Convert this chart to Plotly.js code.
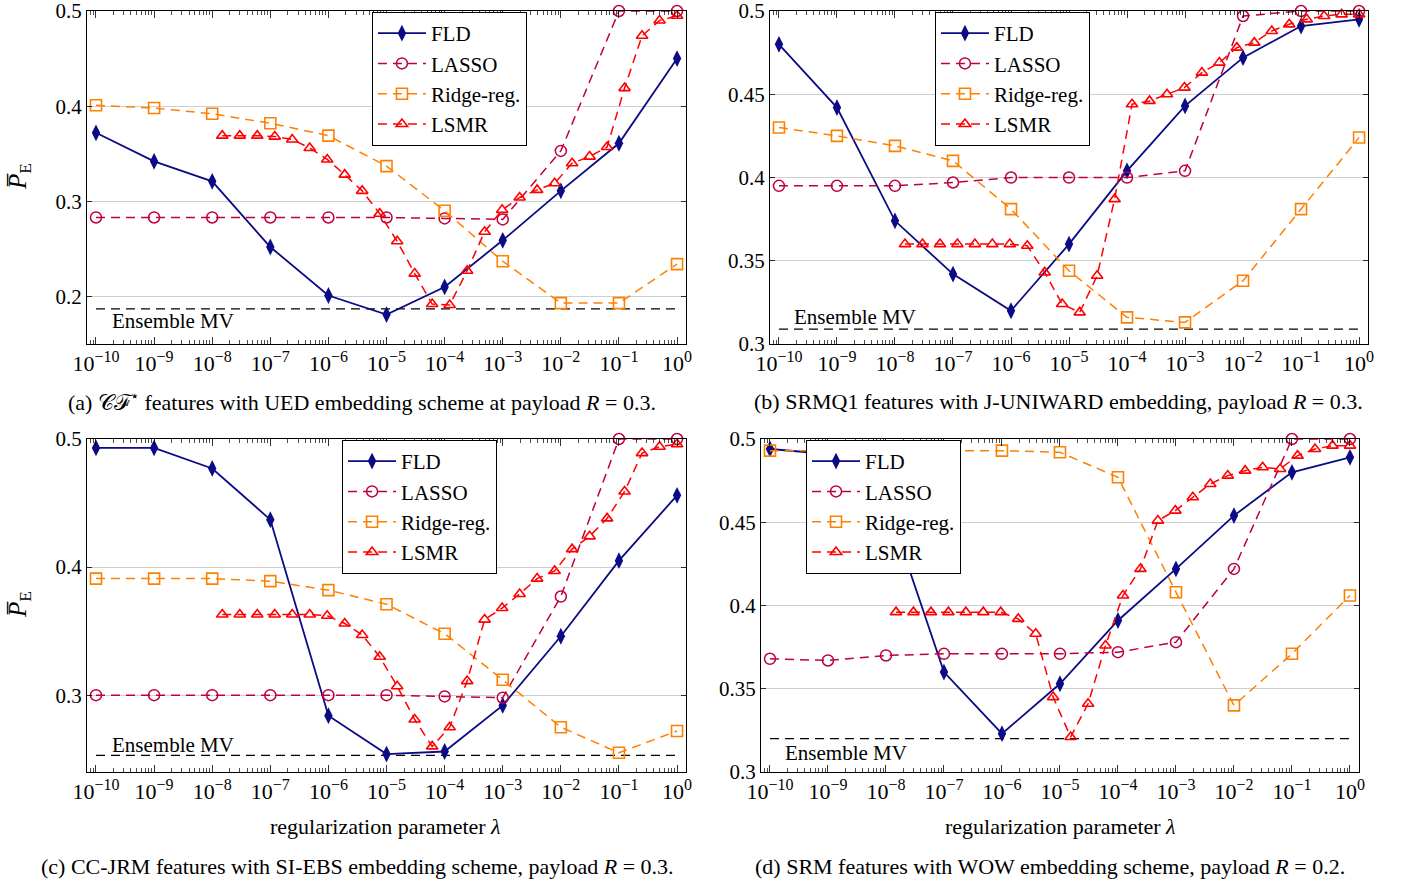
<!DOCTYPE html>
<html>
<head>
<meta charset="utf-8">
<script src="https://cdn.plot.ly/plotly-3.0.1.min.js"></script>
<style>html,body{margin:0;padding:0;background:#fff;}#chart{width:1403px;height:881px;}</style>
</head>
<body>
<div id="chart"></div>
<script>
// regularization parameter values
const LAMBDA = [1e-10, 1e-9, 1e-8, 1e-7, 1e-6, 1e-5, 1e-4, 1e-3, 1e-2, 1e-1, 1];
const LAMBDA_LSMR = [2**-26, 2**-25, 2**-24, 2**-23, 2**-22, 2**-21, 2**-20, 2**-19, 2**-18,
  2**-17, 2**-16, 2**-15, 2**-14, 2**-13, 2**-12, 2**-11, 2**-10, 2**-9, 2**-8, 2**-7,
  2**-6, 2**-5, 2**-4, 2**-3, 2**-2, 2**-1, 2**0];
const SUP = s => '10<sup><span style="font-size:16px">' + s + '</span></sup>';
const X_TICK_LABELS = [SUP('−10'), SUP('−9'), SUP('−8'), SUP('−7'), SUP('−6'),
  SUP('−5'), SUP('−4'), SUP('−3'), SUP('−2'), SUP('−1'), SUP('0')];
const SERIES_NAMES = ['FLD', 'LASSO', 'Ridge-reg.', 'LSMR'];

// (a) CF* / UED
const FLD_A   = [0.372,0.342,0.321,0.252,0.201,0.181,0.210,0.259,0.311,0.361,0.450];
const LASSO_A = [0.283,0.283,0.283,0.283,0.283,0.283,0.282,0.281,0.353,0.500,0.500];
const RIDGE_A = [0.401,0.398,0.392,0.382,0.369,0.337,0.290,0.237,0.193,0.193,0.234];
const LSMR_A  = [0.369,0.369,0.369,0.368,0.365,0.356,0.344,0.328,0.311,0.287,0.258,0.224,0.192,0.191,
  0.227,0.268,0.291,0.304,0.312,0.319,0.340,0.347,0.357,0.419,0.474,0.490,0.495];
const MV_A = 0.187;

// (b) SRMQ1 / J-UNIWARD
const FLD_B   = [0.480,0.442,0.374,0.342,0.320,0.360,0.404,0.443,0.472,0.491,0.495];
const LASSO_B = [0.395,0.395,0.395,0.397,0.400,0.400,0.400,0.404,0.497,0.500,0.500];
const RIDGE_B = [0.430,0.425,0.419,0.410,0.381,0.344,0.316,0.313,0.338,0.381,0.424];
const LSMR_B  = [0.360,0.360,0.360,0.360,0.360,0.360,0.360,0.359,0.343,0.324,0.319,0.341,0.387,0.444,
  0.446,0.450,0.454,0.463,0.469,0.478,0.481,0.488,0.492,0.495,0.497,0.498,0.498];
const MV_B = 0.309;

// (c) CC-JRM / SI-EBS
const FLD_C   = [0.493,0.493,0.477,0.437,0.284,0.254,0.256,0.292,0.346,0.405,0.456];
const LASSO_C = [0.300,0.300,0.300,0.300,0.300,0.300,0.299,0.298,0.377,0.500,0.500];
const RIDGE_C = [0.391,0.391,0.391,0.389,0.382,0.371,0.348,0.312,0.275,0.255,0.272];
const LSMR_C  = [0.363,0.363,0.363,0.363,0.363,0.363,0.362,0.356,0.347,0.330,0.307,0.281,0.260,0.275,
  0.311,0.359,0.368,0.379,0.391,0.397,0.414,0.424,0.438,0.459,0.489,0.494,0.496];
const MV_C = 0.253;

// (d) SRM / WOW
const FLD_D   = [0.494,0.491,0.463,0.360,0.323,0.353,0.391,0.422,0.454,0.480,0.489];
const LASSO_D = [0.368,0.367,0.370,0.371,0.371,0.371,0.372,0.378,0.422,0.500,0.500];
const RIDGE_D = [0.493,0.493,0.493,0.493,0.493,0.492,0.477,0.408,0.340,0.371,0.406];
const LSMR_D  = [0.396,0.396,0.396,0.396,0.396,0.396,0.396,0.392,0.383,0.345,0.321,0.341,0.376,0.406,
  0.422,0.451,0.457,0.465,0.473,0.478,0.481,0.483,0.482,0.490,0.494,0.496,0.496];
const MV_D = 0.320;

const FONT = 'Liberation Serif, Times New Roman, serif';
const C_FLD = '#0b0b85', C_LASSO = 'rgb(191,0,64)', C_RIDGE = 'rgb(255,128,0)', C_LSMR = 'rgb(255,0,0)';
const DASH = '9px,6px';

// minor tick positions (2..9 times each decade) for the log axes
const MINOR_TICKS = [];
for (let d = -11; d <= 0; d++) for (let k = 2; k <= 9; k++) MINOR_TICKS.push(k * Math.pow(10, d));

function panelTraces(n, fld, lasso, ridge, lsmr, mv) {
  const xa = n === 1 ? 'x' : 'x' + n, ya = n === 1 ? 'y' : 'y' + n;
  const lg = n === 1 ? 'legend' : 'legend' + n;
  const common = {xaxis: xa, yaxis: ya, legend: lg, type: 'scatter', mode: 'lines+markers', cliponaxis: false};
  return [
    {xaxis: xa, yaxis: ya, type: 'scatter', mode: 'lines', x: [LAMBDA[0], LAMBDA[LAMBDA.length - 1]], y: [mv, mv],
     line: {color: '#000', width: 1.2, dash: DASH}, showlegend: false, hoverinfo: 'skip'},
    Object.assign({}, common, {name: SERIES_NAMES[0], legendgroup: 'g1', x: LAMBDA, y: fld,
      line: {color: C_FLD, width: 1.8}, marker: {symbol: 'diamond-tall', size: 12, color: C_FLD}}),
    Object.assign({}, common, {name: SERIES_NAMES[1], legendgroup: 'g2', x: LAMBDA, y: lasso,
      line: {color: C_LASSO, width: 1.5, dash: DASH}, marker: {symbol: 'circle-open', size: 11, color: C_LASSO, line: {width: 1.5}}}),
    Object.assign({}, common, {name: SERIES_NAMES[2], legendgroup: 'g3', x: LAMBDA, y: ridge,
      line: {color: C_RIDGE, width: 1.5, dash: DASH}, marker: {symbol: 'square-open', size: 11, color: C_RIDGE, line: {width: 1.6}}}),
    Object.assign({}, common, {name: SERIES_NAMES[3], legendgroup: 'g4', x: LAMBDA_LSMR, y: lsmr,
      line: {color: C_LSMR, width: 1.5, dash: DASH}, marker: {symbol: 'triangle-up-open', size: 10, color: C_LSMR, line: {width: 1.6}}})
  ];
}

const data = [].concat(
  panelTraces(1, FLD_A, LASSO_A, RIDGE_A, LSMR_A, MV_A),
  panelTraces(2, FLD_B, LASSO_B, RIDGE_B, LSMR_B, MV_B),
  panelTraces(3, FLD_C, LASSO_C, RIDGE_C, LSMR_C, MV_C),
  panelTraces(4, FLD_D, LASSO_D, RIDGE_D, LSMR_D, MV_D)
);

function xAxis(domain, anchor) {
  return {domain: domain, anchor: anchor, type: 'log', range: [-10.155, 0.155],
    tickmode: 'array', tickvals: LAMBDA, ticktext: X_TICK_LABELS, ticks: 'inside', ticklen: 7, tickwidth: 0.8, tickcolor: '#000',
    minor: {tickmode: 'array', tickvals: MINOR_TICKS, ticks: 'inside', ticklen: 4, tickwidth: 0.7, tickcolor: '#000', showgrid: false},
    showline: true, linecolor: '#000', linewidth: 1, mirror: 'allticks', showgrid: false, zeroline: false,
    ticklabeloverflow: 'allow',
    tickfont: {family: FONT, size: 22, color: '#000'}, fixedrange: true};
}
function yAxis(domain, anchor, range, tickvals, ticktext) {
  return {domain: domain, anchor: anchor, range: range, tickmode: 'array', tickvals: tickvals, ticktext: ticktext,
    ticks: 'inside', ticklen: 5, tickwidth: 0.8, tickcolor: '#000',
    showline: true, linecolor: '#000', linewidth: 1, mirror: 'allticks',
    showgrid: true, gridcolor: '#cfcfcf', gridwidth: 1, zeroline: false,
    ticklabeloverflow: 'allow',
    tickfont: {family: FONT, size: 21, color: '#000'}, fixedrange: true};
}
function legendAt(x, y) {
  return {x: x, y: y, xanchor: 'left', yanchor: 'top', xref: 'paper', yref: 'paper',
    bgcolor: '#fff', bordercolor: '#000', borderwidth: 1, font: {family: FONT, size: 21, color: '#000'},
    tracegroupgap: 0, traceorder: 'grouped', itemwidth: 48};
}

const TOP = [0.6095, 0.9875], BOT = [0.1237, 0.5017];
const annFont = {family: FONT, size: 21, color: '#000'};
const capFont = {family: FONT, size: 22, color: '#000'};
const P_TITLE = '<i>P̅</i><sub>E</sub>';

const layout = {
  width: 1403, height: 881, margin: {l: 0, r: 0, t: 0, b: 0},
  paper_bgcolor: '#fff', plot_bgcolor: '#fff', font: {family: FONT, color: '#000'},
  xaxis: xAxis([0.0620, 0.4890], 'y'),
  yaxis: yAxis(TOP, 'x', [0.15, 0.5], [0.2, 0.3, 0.4, 0.5], ['0.2', '0.3', '0.4', '0.5']),
  xaxis2: xAxis([0.5488, 0.9751], 'y2'),
  yaxis2: yAxis(TOP, 'x2', [0.3, 0.5], [0.3, 0.35, 0.4, 0.45, 0.5], ['0.3', '0.35', '0.4', '0.45', '0.5']),
  xaxis3: xAxis([0.0620, 0.4890], 'y3'),
  yaxis3: yAxis(BOT, 'x3', [0.24, 0.5], [0.3, 0.4, 0.5], ['0.3', '0.4', '0.5']),
  xaxis4: xAxis([0.5424, 0.9686], 'y4'),
  yaxis4: yAxis(BOT, 'x4', [0.3, 0.5], [0.3, 0.35, 0.4, 0.45, 0.5], ['0.3', '0.35', '0.4', '0.45', '0.5']),
  legend: legendAt(0.2651, 0.9864),
  legend2: legendAt(0.6664, 0.9864),
  legend3: legendAt(0.2438, 0.5006),
  legend4: legendAt(0.5745, 0.5006),
  showlegend: true,
  annotations: [
    // Ensemble MV labels
    {xref: 'x', yref: 'y', x: -9.76, y: 0.174, xanchor: 'left', yanchor: 'middle', text: 'Ensemble MV', showarrow: false, font: annFont},
    {xref: 'x2', yref: 'y2', x: -9.77, y: 0.3165, xanchor: 'left', yanchor: 'middle', text: 'Ensemble MV', showarrow: false, font: annFont},
    {xref: 'x3', yref: 'y3', x: -9.76, y: 0.261, xanchor: 'left', yanchor: 'middle', text: 'Ensemble MV', showarrow: false, font: annFont},
    {xref: 'x4', yref: 'y4', x: -9.77, y: 0.3115, xanchor: 'left', yanchor: 'middle', text: 'Ensemble MV', showarrow: false, font: annFont},
    // y-axis titles
    {xref: 'paper', yref: 'paper', x: 19 / 1403, y: 1 - 177 / 881, xanchor: 'center', yanchor: 'middle', text: P_TITLE, textangle: -90, showarrow: false, font: {family: FONT, size: 25, color: '#000'}},
    {xref: 'paper', yref: 'paper', x: 19 / 1403, y: 1 - 605 / 881, xanchor: 'center', yanchor: 'middle', text: P_TITLE, textangle: -90, showarrow: false, font: {family: FONT, size: 25, color: '#000'}},
    // x-axis titles
    {xref: 'paper', yref: 'paper', x: 386 / 1403, y: 1 - 826 / 881, xanchor: 'center', yanchor: 'middle', text: 'regularization parameter <i>λ</i>', showarrow: false, font: capFont},
    {xref: 'paper', yref: 'paper', x: 1060 / 1403, y: 1 - 826 / 881, xanchor: 'center', yanchor: 'middle', text: 'regularization parameter <i>λ</i>', showarrow: false, font: capFont},
    // captions
    {xref: 'paper', yref: 'paper', x: 362 / 1403, y: 1 - 401 / 881, xanchor: 'center', yanchor: 'middle', text: '(a) 𝒞ℱ<sup>⋆</sup> features with UED embedding scheme at payload <i>R</i> = 0.3.', showarrow: false, font: capFont},
    {xref: 'paper', yref: 'paper', x: 1058 / 1403, y: 1 - 401 / 881, xanchor: 'center', yanchor: 'middle', text: '(b) SRMQ1 features with J-UNIWARD embedding, payload <i>R</i> = 0.3.', showarrow: false, font: capFont},
    {xref: 'paper', yref: 'paper', x: 357 / 1403, y: 1 - 866 / 881, xanchor: 'center', yanchor: 'middle', text: '(c) CC-JRM features with SI-EBS embedding scheme, payload <i>R</i> = 0.3.', showarrow: false, font: capFont},
    {xref: 'paper', yref: 'paper', x: 1050 / 1403, y: 1 - 866 / 881, xanchor: 'center', yanchor: 'middle', text: '(d) SRM features with WOW embedding scheme, payload <i>R</i> = 0.2.', showarrow: false, font: capFont}
  ]
};

Plotly.newPlot('chart', data, layout, {staticPlot: true, displayModeBar: false});
</script>
</body>
</html>
